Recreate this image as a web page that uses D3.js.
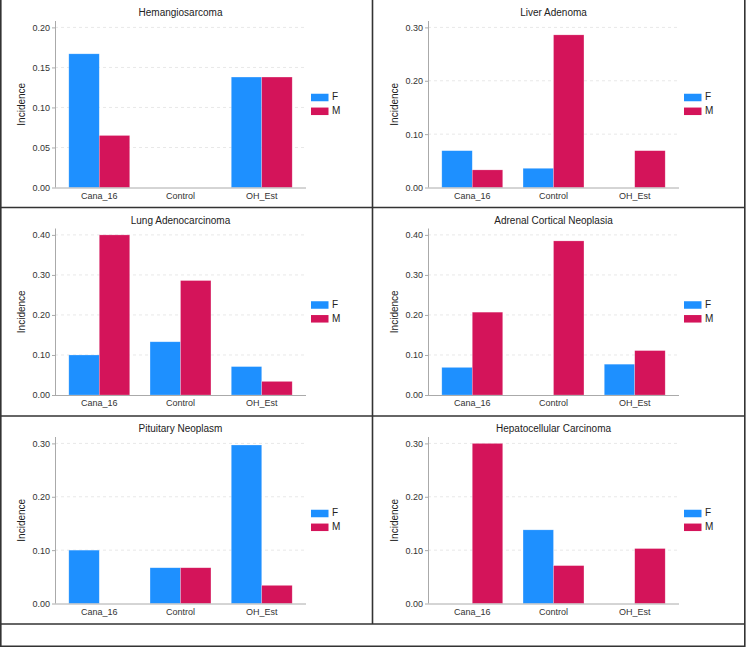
<!DOCTYPE html>
<html>
<head>
<meta charset="utf-8">
<script src="https://cdn.jsdelivr.net/npm/d3@7"></script>
<style>
  body { margin: 0; background: #fff; }
  svg { display: block; font-family: "Liberation Sans", Arial, sans-serif; }
</style>
</head>
<body>
<div id="chart"></div>
<script>
var groups = ['Cana_16', 'Control', 'OH_Est'];
var sexes = ['F', 'M'];
var titles = ['Hemangiosarcoma', 'Liver Adenoma', 'Lung Adenocarcinoma',
  'Adrenal Cortical Neoplasia', 'Pituitary Neoplasm', 'Hepatocellular Carcinoma'];
var femaleVals = [
  [0.167, 0, 0.138],
  [0.069, 0.036, 0],
  [0.100, 0.133, 0.071],
  [0.069, 0, 0.077],
  [0.100, 0.067, 0.297],
  [0, 0.138, 0]
];
var maleVals = [
  [0.065, 0, 0.138],
  [0.033, 0.286, 0.069],
  [0.400, 0.286, 0.034],
  [0.207, 0.385, 0.111],
  [0, 0.067, 0.034],
  [0.300, 0.071, 0.103]
];
var tickTops = [0.20, 0.30, 0.40, 0.40, 0.30, 0.30];
var tickSteps = [0.05, 0.10, 0.10, 0.10, 0.10, 0.10];

var W = 746, H = 648,
  colW = 373,
  rowTop = [0, 207.5, 416],
  pad = { left: 55, right: 306, top: 21, bottom: 187.5 },
  colors = { F: '#1e90ff', M: '#d4145a' };

var svg = d3.select('#chart').append('svg')
  .attr('width', W)
  .attr('height', H);

titles.forEach(function(title, i) {
  var cx = (i % 2) * colW,
    cy = rowTop[Math.floor(i / 2)];
  var g = svg.append('g').attr('transform', 'translate(' + cx + ',' + cy + ')');

  var y = d3.scaleLinear().domain([0, tickTops[i] * 1.04]).range([pad.bottom, pad.top]);
  var x0 = d3.scaleBand().domain(groups).range([pad.left, pad.right])
    .paddingInner(0.25).paddingOuter(0.17);
  var x1 = d3.scaleBand().domain(sexes).range([0, x0.bandwidth()]);
  var ticks = d3.range(0, tickTops[i] + 1e-9, tickSteps[i]);

  // grid
  g.selectAll('.grid').data(ticks.slice(1)).enter().append('line')
    .attr('x1', pad.left).attr('x2', pad.right)
    .attr('y1', function(d) { return y(d); })
    .attr('y2', function(d) { return y(d); })
    .attr('stroke', '#e8e8e8')
    .attr('stroke-dasharray', '3,3');

  var rows = groups.map(function(c, j) {
    return { group: c, F: femaleVals[i][j], M: maleVals[i][j] };
  });

  g.selectAll('.grp').data(rows).enter().append('g')
    .attr('transform', function(d) { return 'translate(' + x0(d.group) + ',0)'; })
    .selectAll('rect')
    .data(function(d) { return sexes.map(function(s) { return { sex: s, v: d[s] }; }); })
    .enter().append('rect')
      .attr('x', function(d) { return x1(d.sex); })
      .attr('width', x1.bandwidth())
      .attr('y', function(d) { return y(d.v); })
      .attr('height', function(d) { return y(0) - y(d.v); })
      .attr('fill', function(d) { return colors[d.sex]; })
      .attr('stroke', '#fff')
      .attr('stroke-opacity', 0.4)
      .attr('stroke-width', 0.6);

  // y axis
  var ya = g.append('g').attr('transform', 'translate(' + pad.left + ',0)')
    .call(d3.axisLeft(y).tickValues(ticks).tickFormat(d3.format('.2f')).tickSize(3).tickPadding(2));
  ya.select('.domain').attr('stroke', '#aaa').attr('d', 'M0.5,' + pad.top + 'V' + pad.bottom);
  ya.selectAll('.tick line').attr('stroke', '#aaa');
  ya.selectAll('.tick text').attr('font-size', 9).attr('fill', '#333')
    .attr('font-family', '"Liberation Sans", Arial, sans-serif');

  // x axis
  var xa = g.append('g').attr('transform', 'translate(0,' + pad.bottom + ')')
    .call(d3.axisBottom(x0).tickSize(0).tickPadding(5));
  xa.select('.domain').attr('stroke', '#aaa').attr('d', 'M' + pad.left + ',0.5H' + pad.right);
  xa.selectAll('.tick text').attr('font-size', 9).attr('fill', '#333')
    .attr('font-family', '"Liberation Sans", Arial, sans-serif');

  g.append('text')
    .attr('x', (pad.left + pad.right) / 2)
    .attr('y', 13.5)
    .attr('text-anchor', 'middle')
    .attr('dominant-baseline', 'middle')
    .attr('font-size', 10)
    .attr('fill', '#222')
    .text(title);

  g.append('text')
    .attr('transform', 'translate(22,' + (pad.top + pad.bottom) / 2 + ') rotate(-90)')
    .attr('text-anchor', 'middle')
    .attr('dominant-baseline', 'middle')
    .attr('font-size', 10)
    .attr('fill', '#222')
    .text('Incidence');

  var mid = (pad.top + pad.bottom) / 2;
  var leg = g.selectAll('.leg').data(sexes).enter().append('g')
    .attr('transform', function(d, k) { return 'translate(311,' + (mid - 10.5 + k * 13.8) + ')'; });
  leg.append('rect').attr('width', 17.5).attr('height', 7.5)
    .attr('fill', function(d) { return colors[d]; });
  leg.append('text').attr('x', 21).attr('y', 4)
    .attr('dominant-baseline', 'middle')
    .attr('font-size', 10)
    .attr('fill', '#222')
    .text(function(d) { return d; });
});

// panel borders
var border = svg.append('g').attr('stroke', '#333').attr('stroke-width', 1.6).attr('fill', 'none');
border.append('path').attr('d', 'M0.8,0V646.2H744.8V0');
border.append('path').attr('d', 'M372.5,0V624');
[207.5, 416, 624].forEach(function(yy) {
  border.append('path').attr('d', 'M0,' + yy + 'H745');
});
</script>
</body>
</html>
